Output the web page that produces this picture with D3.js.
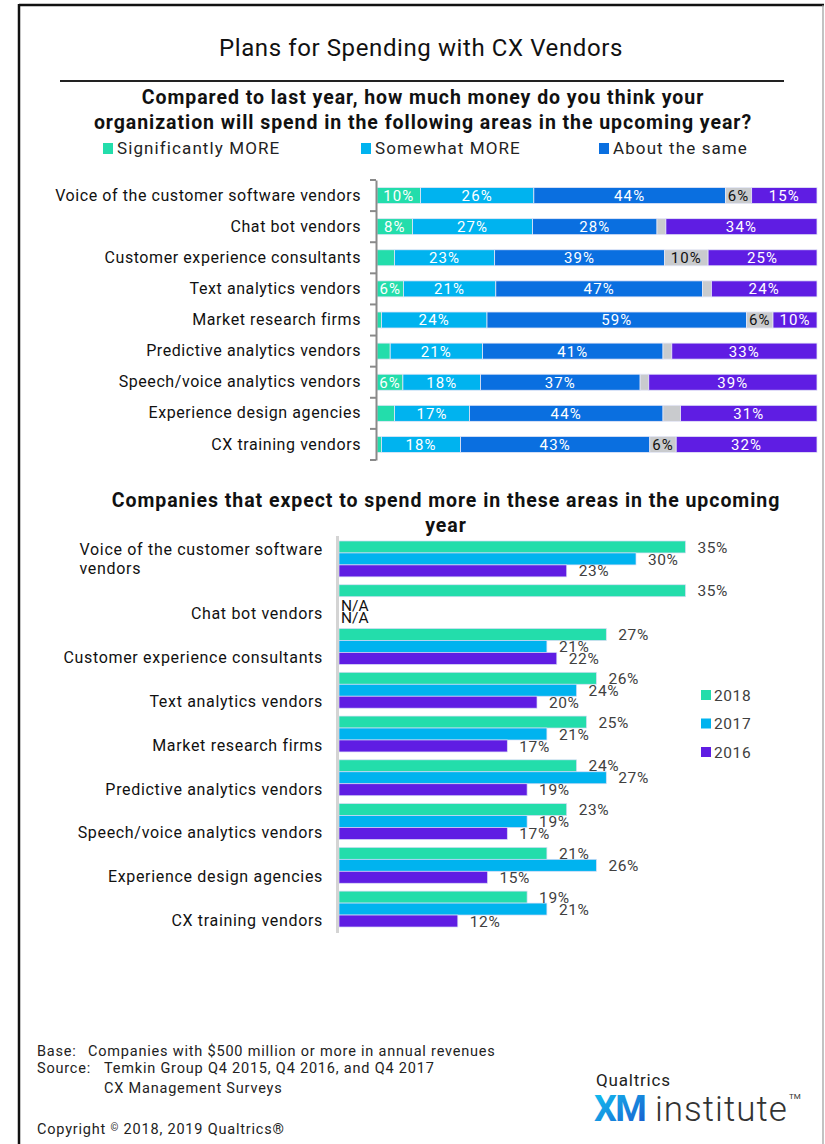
<!DOCTYPE html>
<html>
<head>
<meta charset="utf-8">
<script src="https://cdn.jsdelivr.net/npm/d3@7"></script>
<style>
  html, body { margin: 0; padding: 0; background: #fff; }
  svg { display: block; }
  text { font-family: Roboto, "Liberation Sans", sans-serif; }
</style>
</head>
<body>
<div id="chart"></div>
<script>
// ---------- Spending intentions (100% stacked) ----------
const spendCategories = [
  "Voice of the customer software vendors",
  "Chat bot vendors",
  "Customer experience consultants",
  "Text analytics vendors",
  "Market research firms",
  "Predictive analytics vendors",
  "Speech/voice analytics vendors",
  "Experience design agencies",
  "CX training vendors"
];
const responseNames = ["Significantly MORE", "Somewhat MORE", "About the same", "Somewhat LESS", "Significantly LESS"];
const significantlyMore = [10, 8, 4, 6, 1, 3, 6, 4, 1];
const somewhatMore      = [26, 27, 23, 21, 24, 21, 18, 17, 18];
const aboutTheSame      = [44, 28, 39, 47, 59, 41, 37, 44, 43];
const somewhatLess      = [6, 2, 10, 2, 6, 2, 2, 4, 6];
const significantlyLess = [15, 34, 25, 24, 10, 33, 39, 31, 32];

// ---------- Share expecting to spend more, by survey year ----------
const yearCategories = [
  ["Voice of the customer software", "vendors"],
  ["Chat bot vendors"],
  ["Customer experience consultants"],
  ["Text analytics vendors"],
  ["Market research firms"],
  ["Predictive analytics vendors"],
  ["Speech/voice analytics vendors"],
  ["Experience design agencies"],
  ["CX training vendors"]
];
const surveyYears = ["2018", "2017", "2016"];
const moreIn2018 = [35, 35, 27, 26, 25, 24, 23, 21, 19];
const moreIn2017 = [30, null, 21, 24, 21, 27, 19, 26, 21];
const moreIn2016 = [23, null, 22, 20, 17, 19, 17, 15, 12];

const responseColors = ["#23DDAB", "#00B3EF", "#0A6FE0", "#C9CBCE", "#5F1DE3"];
const yearColors = ["#23DDAB", "#00B3EF", "#5F1DE3"];

const W = 825, H = 1144;
const svg = d3.select("#chart").append("svg").attr("width", W).attr("height", H);

// frame
svg.append("line").attr("x1", 19).attr("x2", 824).attr("y1", 5).attr("y2", 5)
  .attr("stroke", "#111").attr("stroke-width", 2.5);
svg.append("line").attr("x1", 19).attr("x2", 19).attr("y1", 4).attr("y2", H)
  .attr("stroke", "#111").attr("stroke-width", 2.5);
svg.append("line").attr("x1", 823).attr("x2", 823).attr("y1", 5).attr("y2", H)
  .attr("stroke", "#9a9a9a").attr("stroke-width", 1.2);

// title
svg.append("text").attr("x", 421).attr("y", 56).attr("text-anchor", "middle")
  .attr("font-size", 24).attr("letter-spacing", 0.6).attr("fill", "#111")
  .text("Plans for Spending with CX Vendors");
svg.append("line").attr("x1", 60).attr("x2", 784).attr("y1", 81).attr("y2", 81)
  .attr("stroke", "#222").attr("stroke-width", 2);

// ---------- top chart ----------
const topQ = svg.append("text").attr("text-anchor", "middle").attr("font-size", 19.5)
  .attr("letter-spacing", 0.95).attr("font-weight", "bold").attr("fill", "#111");
topQ.append("tspan").attr("x", 423).attr("y", 104).text("Compared to last year, how much money do you think your");
topQ.append("tspan").attr("x", 423).attr("y", 129).text("organization will spend in the following areas in the upcoming year?");

const legendTop = [
  { name: responseNames[0], color: responseColors[0], x: 103 },
  { name: responseNames[1], color: responseColors[1], x: 361 },
  { name: responseNames[2], color: responseColors[2], x: 599 }
];
const lt = svg.append("g").selectAll("g").data(legendTop).join("g")
  .attr("transform", d => `translate(${d.x},148)`);
lt.append("rect").attr("x", 0).attr("y", -5).attr("width", 10).attr("height", 11).attr("fill", d => d.color);
lt.append("text").attr("x", 14).attr("y", 6).attr("font-size", 17).attr("letter-spacing", 1.1)
  .attr("fill", "#222").text(d => d.name);

const rows = spendCategories.map((c, i) => ({
  category: c,
  s0: significantlyMore[i], s1: somewhatMore[i], s2: aboutTheSame[i], s3: somewhatLess[i], s4: significantlyLess[i]
}));
const keys = ["s0", "s1", "s2", "s3", "s4"];
const stacked = d3.stack().keys(keys).offset(d3.stackOffsetExpand)(rows);

const yTop = d3.scaleBand().domain(spendCategories).range([180, 460]).paddingInner(0.485).paddingOuter(0.2425);
const xTop = d3.scaleLinear().domain([0, 1]).range([377, 817]);

const seriesG = svg.append("g").selectAll("g").data(stacked).join("g")
  .attr("fill", (d, i) => responseColors[i]);
seriesG.selectAll("rect").data(d => d).join("rect")
  .attr("x", d => xTop(d[0]))
  .attr("y", d => yTop(d.data.category))
  .attr("width", d => xTop(d[1]) - xTop(d[0]))
  .attr("height", yTop.bandwidth())
  .attr("stroke", "#e4e6f6").attr("stroke-width", 0.8);

seriesG.each(function(series, si) {
  d3.select(this).selectAll("text").data(series.filter(d => d.data[series.key] >= 5)).join("text")
    .attr("x", d => (xTop(d[0]) + xTop(d[1])) / 2)
    .attr("y", d => yTop(d.data.category) + yTop.bandwidth() / 2)
    .attr("dy", "0.36em")
    .attr("text-anchor", "middle")
    .attr("font-size", 15)
    .attr("letter-spacing", 1.1)
    .attr("fill", si === 3 ? "#111" : "#fff")
    .text(d => d.data[series.key] + "%");
});

const axisTop = svg.append("g").attr("transform", "translate(376,0)")
  .call(d3.axisLeft(yTop).tickSize(0).tickPadding(15));
axisTop.select(".domain").attr("stroke", "#8a8a8a").attr("stroke-width", 2);
axisTop.selectAll(".tick text").attr("font-size", 16).attr("fill", "#111")
  .attr("letter-spacing", 0.58).attr("font-family", "Roboto, sans-serif");
// category boundary ticks
const bounds = spendCategories.map(c => yTop(c) - yTop.step() * yTop.paddingInner() / 2)
  .concat([yTop(spendCategories[spendCategories.length - 1]) + yTop.bandwidth() + yTop.step() * yTop.paddingInner() / 2]);
svg.append("g").selectAll("line").data(bounds).join("line")
  .attr("x1", 370).attr("x2", 376).attr("y1", d => d).attr("y2", d => d)
  .attr("stroke", "#8a8a8a").attr("stroke-width", 2);

// ---------- bottom chart ----------
const botT = svg.append("text").attr("text-anchor", "middle").attr("font-size", 19.5)
  .attr("letter-spacing", 0.95).attr("font-weight", "bold").attr("fill", "#111");
botT.append("tspan").attr("x", 446).attr("y", 507).text("Companies that expect to spend more in these areas in the upcoming");
botT.append("tspan").attr("x", 446).attr("y", 532).text("year");

const groupKeys = yearCategories.map(d => d.join(" "));
const yBot = d3.scaleBand().domain(groupKeys).range([536, 932]).paddingInner(0.18).paddingOuter(0.114);
const ySub = d3.scaleBand().domain(surveyYears).range([0, yBot.bandwidth()]);
const xBot = d3.scaleLinear().domain([0, 40]).range([339, 339 + 396]);

const yearValues = [moreIn2018, moreIn2017, moreIn2016];
const groups = svg.append("g").selectAll("g").data(groupKeys).join("g")
  .attr("transform", d => `translate(0,${yBot(d)})`);
groups.each(function(key, gi) {
  const g = d3.select(this);
  const items = surveyYears.map((yr, yi) => ({ yr, yi, v: yearValues[yi][gi] }));
  g.selectAll("rect").data(items.filter(d => d.v != null)).join("rect")
    .attr("x", xBot(0))
    .attr("y", d => ySub(d.yr))
    .attr("width", d => xBot(d.v) - xBot(0))
    .attr("height", ySub.bandwidth())
    .attr("fill", d => yearColors[d.yi])
    .attr("stroke", "#d8dcf5").attr("stroke-width", 0.7);
  g.selectAll("text.val").data(items).join("text").attr("class", "val")
    .attr("x", d => d.v != null ? xBot(d.v) + 12 : xBot(0) + 2)
    .attr("y", d => ySub(d.yr) + ySub.bandwidth() / 2 + (d.v != null ? 0 : 3))
    .attr("dy", "0.36em")
    .attr("font-size", 15.5)
    .attr("letter-spacing", d => d.v != null ? 0.6 : 0)
    .attr("fill", d => d.v != null ? "#404040" : "#111")
    .text(d => d.v != null ? d.v + "%" : "N/A");
});

// bottom axis line
svg.append("line").attr("x1", 337.5).attr("x2", 337.5).attr("y1", 536).attr("y2", 933)
  .attr("stroke", "#d4d4d4").attr("stroke-width", 3);

// bottom category labels (right-aligned block, wrapped lines left-aligned)
const catLabels = svg.append("g");
yearCategories.forEach((lines, i) => {
  const lh = 19.5;
  const cy = yBot(groupKeys[i]) + yBot.bandwidth() / 2 + (lines.length === 1 ? 11 : 0);
  const first = catLabels.append("text").attr("x", 323).attr("text-anchor", "end")
    .attr("font-size", 16).attr("letter-spacing", 0.68).attr("fill", "#111")
    .attr("y", cy - (lines.length - 1) * lh / 2).attr("dy", "0.36em").text(lines[0]);
  if (lines.length > 1) {
    const x0 = 323 - first.node().getComputedTextLength();
    lines.slice(1).forEach((ln, k) => {
      catLabels.append("text").attr("x", x0).attr("text-anchor", "start")
        .attr("font-size", 16).attr("letter-spacing", 0.68).attr("fill", "#111")
        .attr("y", cy - (lines.length - 1) * lh / 2 + (k + 1) * lh).attr("dy", "0.36em").text(ln);
    });
  }
});

// bottom legend
const lb = svg.append("g").selectAll("g").data(surveyYears).join("g")
  .attr("transform", (d, i) => `translate(701,${695 + i * 28.5})`);
lb.append("rect").attr("x", 0).attr("y", -5).attr("width", 10).attr("height", 10)
  .attr("fill", (d, i) => yearColors[i]);
lb.append("text").attr("x", 13).attr("y", 0).attr("dy", "0.36em").attr("font-size", 15.5)
  .attr("letter-spacing", 0.6).attr("fill", "#404040").text(d => d);

// ---------- footer ----------
const foot = svg.append("g").attr("font-size", 14.5).attr("letter-spacing", 0.8).attr("fill", "#222");
foot.append("text").attr("x", 37).attr("y", 1056).text("Base:");
foot.append("text").attr("x", 88).attr("y", 1056).text("Companies with $500 million or more in annual revenues");
foot.append("text").attr("x", 37).attr("y", 1073).text("Source:");
foot.append("text").attr("x", 104).attr("y", 1073).text("Temkin Group Q4 2015, Q4 2016, and Q4 2017");
foot.append("text").attr("x", 104).attr("y", 1093).text("CX Management Surveys");
const copy = foot.append("text").attr("x", 37).attr("y", 1134);
copy.append("tspan").text("Copyright ");
copy.append("tspan").attr("font-size", 10).attr("dy", -3).text("©");
copy.append("tspan").attr("dy", 3).text(" 2018, 2019 Qualtrics®");

// logo
const defs = svg.append("defs");
const grad = defs.append("linearGradient").attr("id", "xmGrad")
  .attr("x1", "0%").attr("y1", "0%").attr("x2", "100%").attr("y2", "100%");
grad.append("stop").attr("offset", "0%").attr("stop-color", "#12c6f2");
grad.append("stop").attr("offset", "100%").attr("stop-color", "#1a55cc");
svg.append("text").attr("x", 596).attr("y", 1086).attr("font-size", 17).attr("letter-spacing", 0.8)
  .attr("fill", "#222").text("Qualtrics");
svg.append("text").attr("x", 594).attr("y", 1121).attr("font-size", 36).attr("font-weight", "bold")
  .attr("fill", "url(#xmGrad)").attr("letter-spacing", -1.5).text("XM");
svg.append("text").attr("x", 655).attr("y", 1121).attr("font-size", 35).attr("font-weight", 300)
  .attr("letter-spacing", 1).attr("fill", "#333").text("institute");
svg.append("text").attr("x", 789).attr("y", 1099).attr("font-size", 8).attr("fill", "#333").text("TM");
</script>
</body>
</html>
